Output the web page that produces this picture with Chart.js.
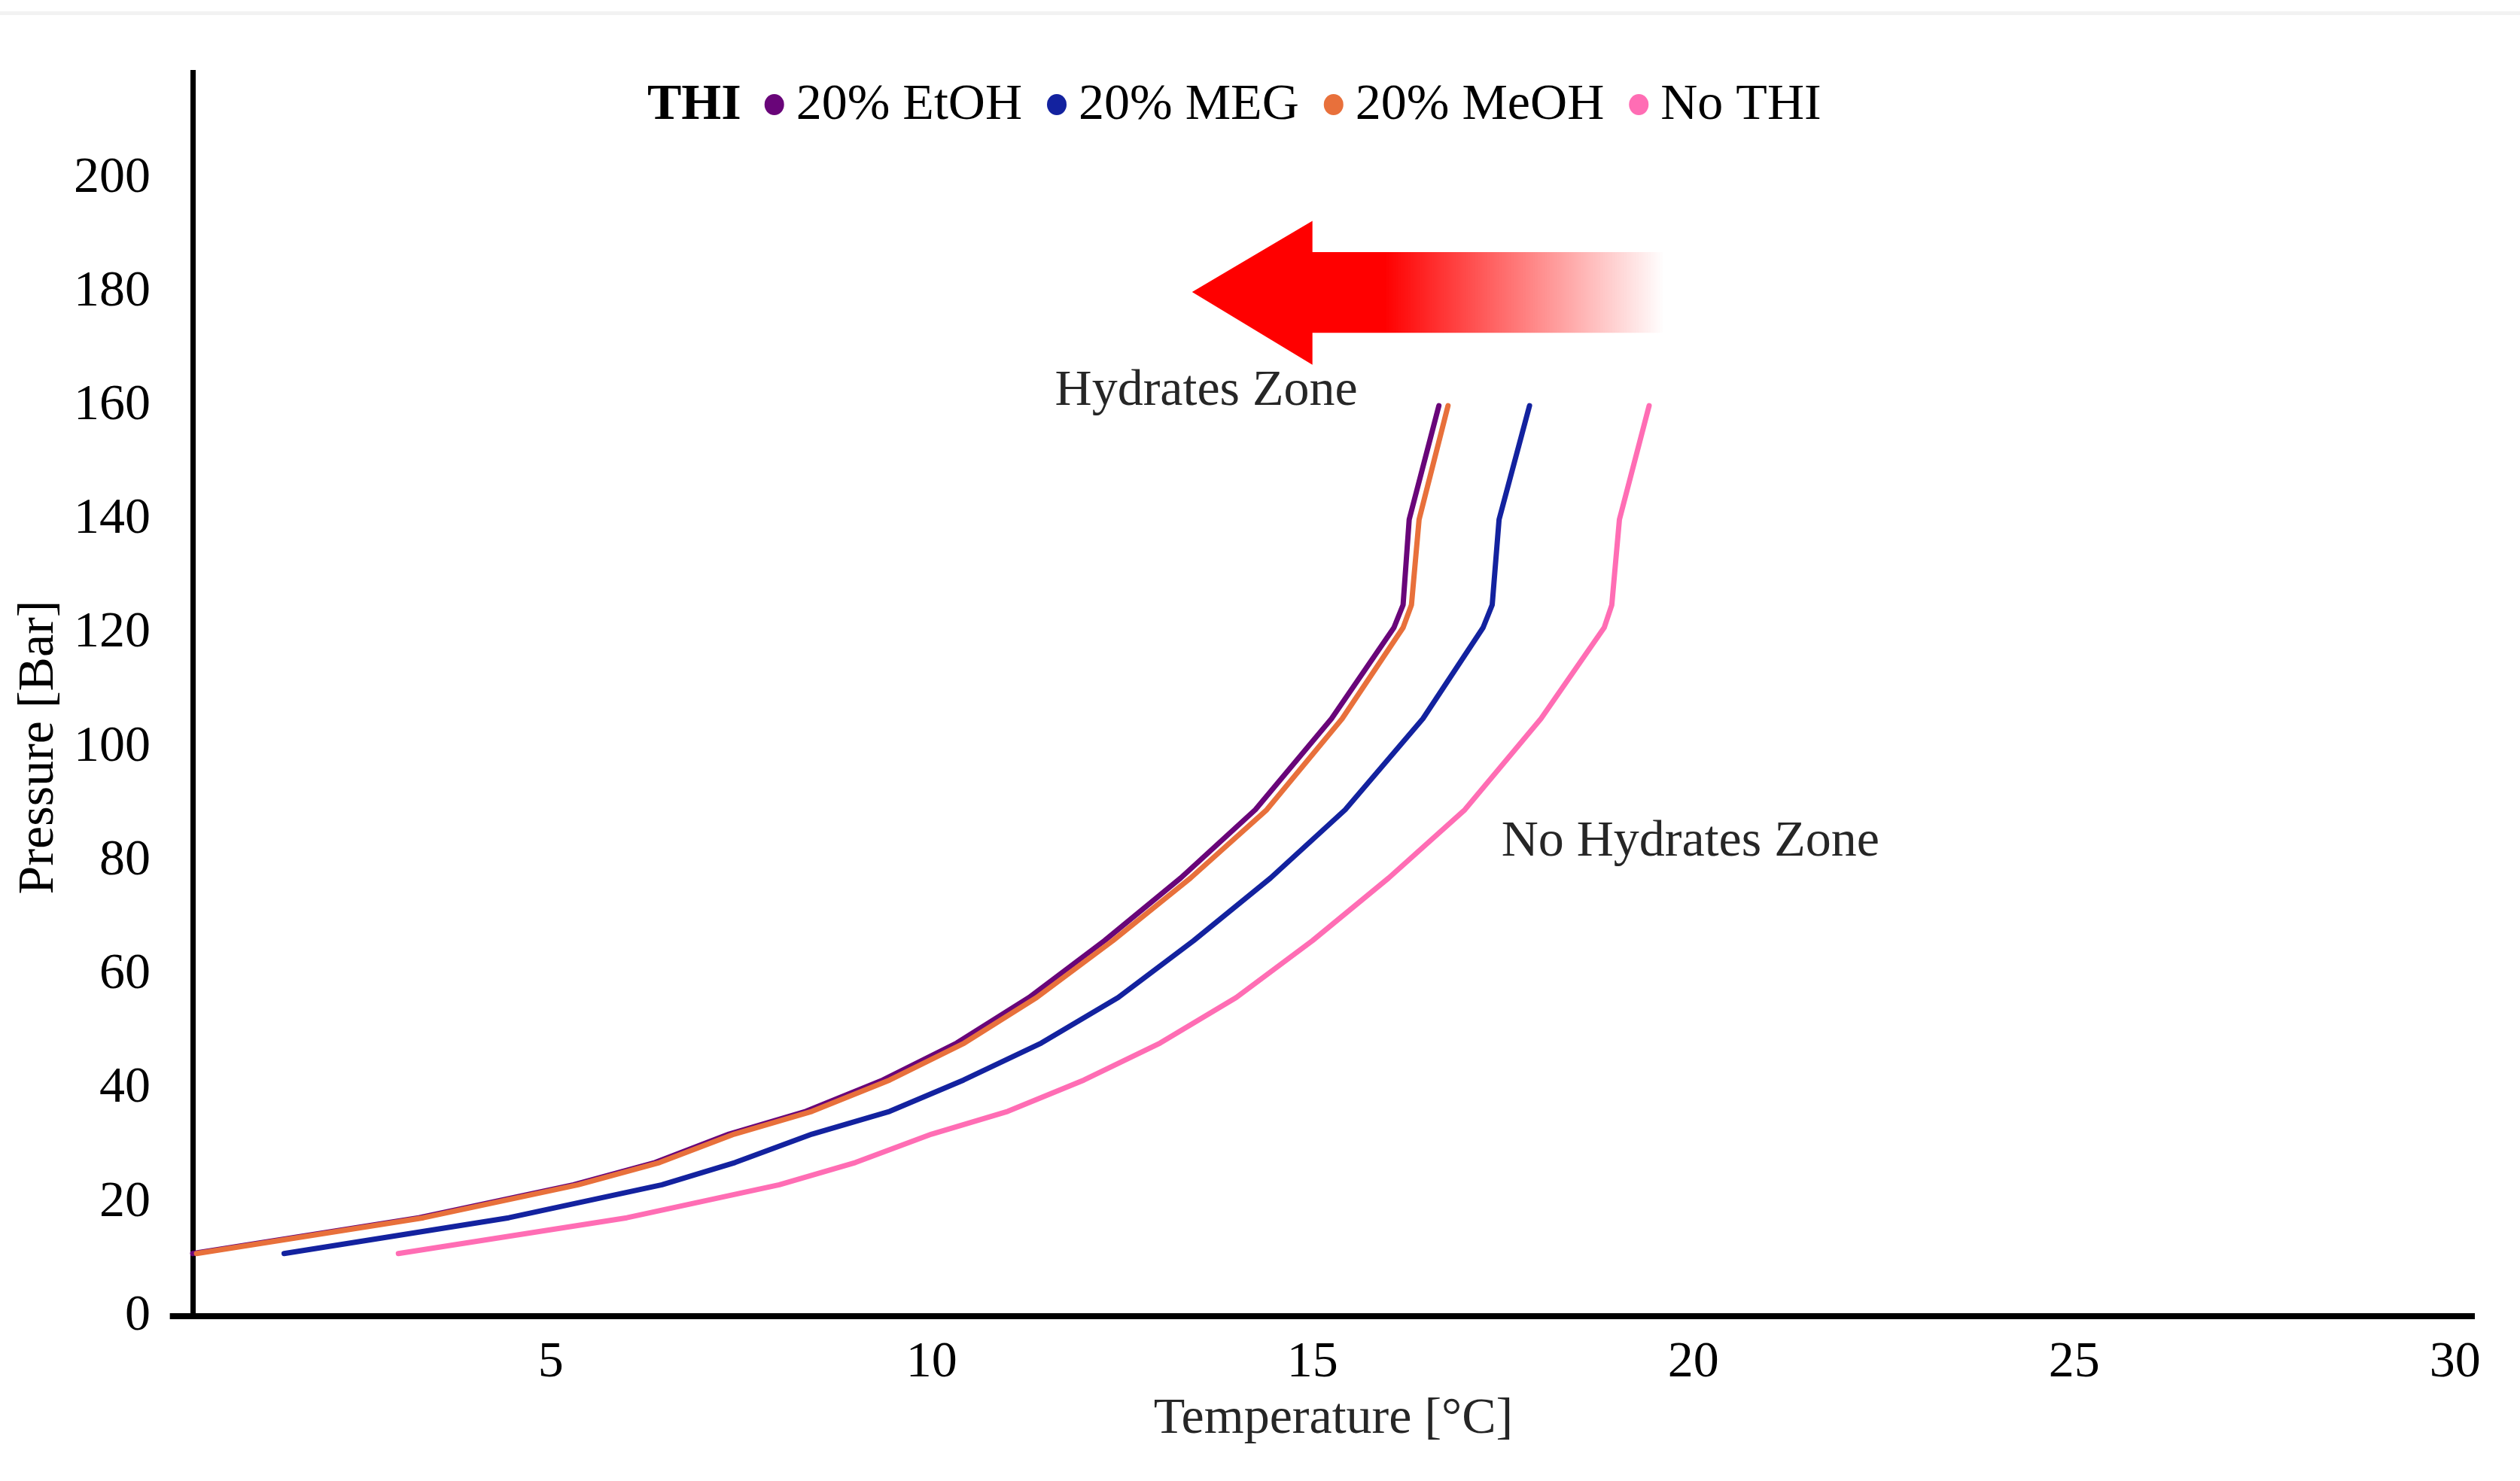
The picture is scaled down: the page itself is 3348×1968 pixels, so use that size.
<!DOCTYPE html>
<html>
<head>
<meta charset="utf-8">
<script src="https://cdn.jsdelivr.net/npm/chart.js@4.4.1/dist/chart.umd.min.js"></script>
<style>
  html, body { margin: 0; padding: 0; background: #fff; }
  #wrap { width: 3348px; height: 1968px; position: relative; }
</style>
</head>
<body>
<div id="wrap"><canvas id="plots"></canvas></div>
<script>
// Hydrate curves: pressure [Bar] vs temperature [°C]
var pressure = [11, 17.3, 23.1, 27, 32, 36, 41.5, 48, 56, 66, 77, 89, 105, 121, 125, 140, 160];
var tempEtOH = [0.3, 3.27, 5.3, 6.37, 7.34, 8.35, 9.36, 10.33, 11.28, 12.27, 13.27, 14.25, 15.25, 16.07, 16.19, 16.27, 16.66];
var tempMEG = [1.5, 4.45, 6.46, 7.42, 8.43, 9.45, 10.42, 11.44, 12.45, 13.44, 14.45, 15.43, 16.45, 17.24, 17.36, 17.45, 17.85];
var tempMeOH = [0.35, 3.33, 5.36, 6.43, 7.41, 8.43, 9.45, 10.43, 11.38, 12.38, 13.4, 14.4, 15.39, 16.19, 16.3, 16.4, 16.78];
var tempNoTHI = [3, 6, 8, 9, 10, 11, 12, 13, 14, 15, 16, 17, 18, 18.83, 18.93, 19.03, 19.42];

var seriesLabels = ["20% EtOH", "20% MEG", "20% MeOH", "No THI"];
var seriesColors = ["#690579", "#13229f", "#e8703b", "#ff6db4"];

var xTicks = [5, 10, 15, 20, 25, 30];
var yTicks = [0, 20, 40, 60, 80, 100, 120, 140, 160, 180, 200];

var FONT = "'Liberation Serif', 'Times New Roman', serif";

function pts(temps) {
    return temps.map(function (t, i) { return { x: t, y: pressure[i] }; });
}

var allTemps = [tempEtOH, tempMEG, tempMeOH, tempNoTHI];
var drawOrder = [2, 3, 1, 4]; // MeOH sits on top of EtOH

var datasets = allTemps.map(function (temps, i) {
    return {
        label: seriesLabels[i],
        data: pts(temps),
        borderColor: seriesColors[i],
        backgroundColor: seriesColors[i],
        borderWidth: 7,
        borderCapStyle: 'round',
        borderJoinStyle: 'round',
        pointRadius: 0,
        showLine: true,
        tension: 0,
        clip: false,
        order: drawOrder[i],
    };
});

// arrow, zone labels, legend and y title
var decor = {
    id: 'decor',
    beforeDraw: function (chart) {
        var ctx = chart.ctx;
        ctx.save();
        ctx.fillStyle = '#f2f2f2';
        ctx.fillRect(0, 15, chart.width, 5);
        ctx.restore();
    },
    afterDraw: function (chart) {
        var ctx = chart.ctx;
        var xs = chart.scales.x, ys = chart.scales.y;
        ctx.save();

        // x axis stub left of the y axis
        ctx.fillStyle = '#000';
        ctx.fillRect(xs.getPixelForValue(0), ys.getPixelForValue(0) - 4, xs.left - xs.getPixelForValue(0), 8);

        // red arrow pointing to the hydrates zone
        var tip = [13.42, 180], headX = 15.0, endX = 19.62;
        var headTop = 192.5, headBot = 167.2, shaftTop = 187, shaftBot = 172.8;
        var grad = ctx.createLinearGradient(xs.getPixelForValue(15.95), 0, xs.getPixelForValue(endX), 0);
        grad.addColorStop(0, 'rgba(255,0,0,1)');
        grad.addColorStop(1, 'rgba(255,0,0,0)');
        ctx.fillStyle = grad;
        ctx.beginPath();
        ctx.moveTo(xs.getPixelForValue(tip[0]), ys.getPixelForValue(tip[1]));
        ctx.lineTo(xs.getPixelForValue(headX), ys.getPixelForValue(headTop));
        ctx.lineTo(xs.getPixelForValue(headX), ys.getPixelForValue(shaftTop));
        ctx.lineTo(xs.getPixelForValue(endX), ys.getPixelForValue(shaftTop));
        ctx.lineTo(xs.getPixelForValue(endX), ys.getPixelForValue(shaftBot));
        ctx.lineTo(xs.getPixelForValue(headX), ys.getPixelForValue(shaftBot));
        ctx.lineTo(xs.getPixelForValue(headX), ys.getPixelForValue(headBot));
        ctx.closePath();
        ctx.fill();

        // zone labels
        ctx.fillStyle = '#262626';
        ctx.font = '68px ' + FONT;
        ctx.textAlign = 'left';
        ctx.textBaseline = 'alphabetic';
        ctx.fillText('Hydrates Zone', xs.getPixelForValue(11.62), ys.getPixelForValue(160.2));
        ctx.fillText('No Hydrates Zone', xs.getPixelForValue(17.48), ys.getPixelForValue(81));

        // y axis title
        ctx.save();
        ctx.translate(52, 993);
        ctx.rotate(-Math.PI / 2);
        ctx.textAlign = 'center';
        ctx.textBaseline = 'middle';
        ctx.fillStyle = '#000';
        ctx.fillText('Pressure [Bar]', 0, 0);
        ctx.restore();

        // legend: "THI" then a dot and label per series
        var x = 860, base = 158, dotY = 139;
        ctx.fillStyle = '#000';
        ctx.font = 'bold 68px ' + FONT;
        ctx.fillText('THI', x, base);
        x += ctx.measureText('THI').width + 44;
        ctx.font = '68px ' + FONT;
        chart.data.datasets.forEach(function (ds) {
            ctx.fillStyle = ds.borderColor;
            ctx.beginPath();
            ctx.ellipse(x, dotY, 13, 14, 0, 0, Math.PI * 2);
            ctx.fill();
            x += 29;
            ctx.fillStyle = '#000';
            ctx.fillText(ds.label, x, base);
            x += ctx.measureText(ds.label).width + 46;
        });

        ctx.restore();
    }
};

new Chart(document.getElementById('plots'), {
    type: 'scatter',
    data: { datasets: datasets },
    options: {
        responsive: true,
        maintainAspectRatio: false,
        devicePixelRatio: 1,
        animation: false,
        layout: {
            padding: { top: 93, right: 61, left: 0, bottom: 0 },
        },
        plugins: {
            legend: { display: false },
            tooltip: { enabled: false },
        },
        scales: {
            x: {
                type: 'linear',
                min: 0.3,
                max: 30.25,
                afterBuildTicks: function (s) { s.ticks = xTicks.map(function (v) { return { value: v }; }); },
                afterFit: function (s) { s.height = 219; },
                grid: { display: false, drawTicks: false },
                border: { display: true, color: '#000', width: 8 },
                ticks: { color: '#000', padding: 21, font: { family: FONT, size: 68 }, maxRotation: 0 },
                title: {
                    display: true,
                    text: 'Temperature [°C]',
                    color: '#262626',
                    font: { family: FONT, size: 68 },
                    padding: { top: 0, bottom: 41 },
                },
            },
            y: {
                type: 'linear',
                min: 0,
                max: 218.5,
                afterBuildTicks: function (s) { s.ticks = yTicks.map(function (v) { return { value: v }; }); },
                afterFit: function (s) { s.width = 256; },
                grid: { display: false, drawTicks: false },
                border: { display: true, color: '#000', width: 7 },
                ticks: { color: '#000', padding: 56, font: { family: FONT, size: 68 } },
            },
        },
    },
    plugins: [decor],
});
</script>
</body>
</html>
